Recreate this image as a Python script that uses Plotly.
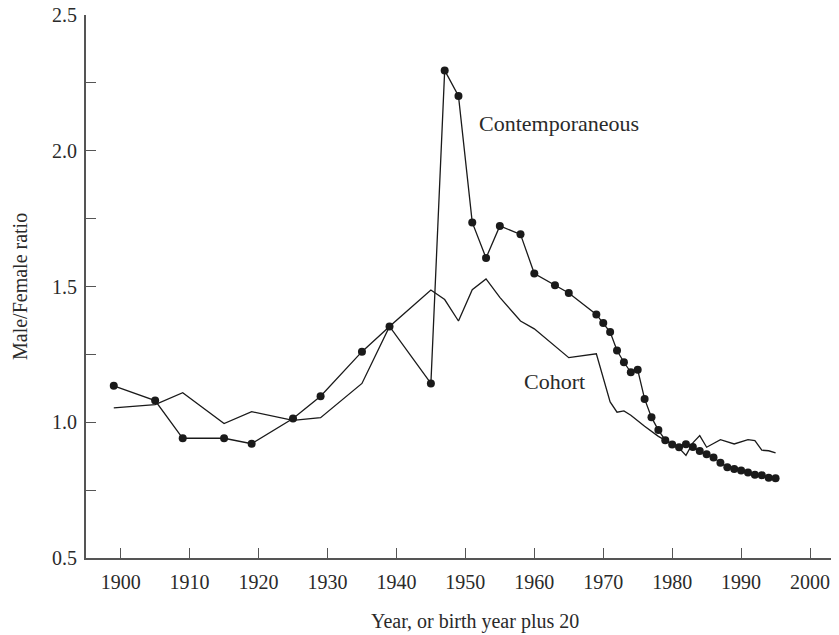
import plotly.graph_objects as go

# Contemporaneous series (dots)
contemp_years = [1899, 1905, 1909, 1915, 1919, 1925, 1929, 1935, 1939, 1945,
                 1947, 1949, 1951, 1953, 1955, 1958, 1960, 1963, 1965, 1969,
                 1970, 1971, 1972, 1973, 1974, 1975, 1976, 1977, 1978, 1979,
                 1980, 1981, 1982, 1983, 1984, 1985, 1986, 1987, 1988, 1989,
                 1990, 1991, 1992, 1993, 1994, 1995]
contemp_ratio = [1.134, 1.080, 0.941, 0.941, 0.921, 1.014, 1.096, 1.260, 1.353, 1.143,
                 2.296, 2.202, 1.736, 1.605, 1.723, 1.692, 1.548, 1.505, 1.476, 1.397,
                 1.366, 1.332, 1.264, 1.221, 1.184, 1.193, 1.086, 1.018, 0.971, 0.934,
                 0.918, 0.908, 0.919, 0.909, 0.894, 0.882, 0.870, 0.851, 0.834, 0.828,
                 0.822, 0.815, 0.807, 0.805, 0.796, 0.794]

# Cohort series (plain line)
cohort_years = [1899, 1905, 1909, 1915, 1919, 1925, 1929, 1935, 1939, 1945,
                1947, 1949, 1951, 1953, 1955, 1958, 1960, 1965, 1969, 1971,
                1972, 1973, 1974, 1975, 1976, 1978, 1980, 1981, 1982, 1983,
                1984, 1985, 1987, 1989, 1991, 1992, 1993, 1994, 1995]
cohort_ratio = [1.053, 1.065, 1.109, 0.995, 1.039, 1.007, 1.017, 1.143, 1.353, 1.487,
                1.452, 1.373, 1.488, 1.528, 1.460, 1.373, 1.344, 1.238, 1.252, 1.075,
                1.037, 1.042, 1.026, 1.005, 0.985, 0.948, 0.918, 0.905, 0.878, 0.924,
                0.951, 0.908, 0.936, 0.920, 0.936, 0.932, 0.897, 0.895, 0.887]

x_ticks = [1900, 1910, 1920, 1930, 1940, 1950, 1960, 1970, 1980, 1990, 2000]
y_ticks = [0.5, 1.0, 1.5, 2.0, 2.5]
y_tick_labels = ["0.5", "1.0", "1.5", "2.0", "2.5"]

FONT = "Liberation Serif"
TXT = "#2a2a2a"
AX = "#555555"

# page has an 8px body margin: compensate so the plot lands where the reference has it
OFF = 8
W, H = 839 - OFF, 635 - OFF
ml, mr, mt, mb = 86 - OFF, 0, 15 - OFF, 635 - 558
pw, ph = W - ml - mr, H - mt - mb

fig = go.Figure()
fig.add_trace(go.Scatter(x=cohort_years, y=cohort_ratio, mode="lines",
                         line=dict(color="#1a1a1a", width=1.3), name="Cohort"))
fig.add_trace(go.Scatter(x=contemp_years, y=contemp_ratio, mode="lines+markers",
                         line=dict(color="#1a1a1a", width=1.3),
                         marker=dict(color="#1a1a1a", size=8),
                         name="Contemporaneous"))

fig.update_layout(
    width=W, height=H,
    margin=dict(l=ml, r=mr, t=mt, b=mb, autoexpand=False),
    paper_bgcolor="white", plot_bgcolor="white",
    showlegend=False,
    font=dict(family=FONT, size=20, color=TXT),
    xaxis=dict(range=[1894.97, 2004.2], tickvals=x_ticks, ticks="inside",
               ticklen=10, tickwidth=1.3, tickcolor=AX,
               showline=True, linecolor=AX, linewidth=2,
               showgrid=False, zeroline=False, ticklabelstandoff=5,
               ticklabeloverflow="allow", automargin=False,
               tickfont=dict(family=FONT, size=20, color=TXT)),
    yaxis=dict(range=[0.5, 2.5], tickvals=y_ticks, ticktext=y_tick_labels,
               ticks="inside", ticklen=10, tickwidth=1.3, tickcolor=AX,
               minor=dict(ticks="inside", ticklen=10, tickwidth=1.3,
                          tickcolor=AX, dtick=0.25, showgrid=False),
               showline=True, linecolor=AX, linewidth=2,
               showgrid=False, zeroline=False, ticklabelstandoff=3,
               ticklabeloverflow="allow", automargin=False,
               tickfont=dict(family=FONT, size=20, color=TXT)),
)

# text placed in page-pixel space (converted to paper coordinates)
specs = [
    ("Contemporaneous", 477, 123, "left", 0, 22),
    ("Cohort", 522, 381, "left", 0, 22),
    ("Year, or birth year plus 20", 475, 621, "center", 0, 20),
    ("Male/Female ratio", 20, 287, "center", -90, 20),
]
ann = []
for text, px, py, anchor, ang, size in specs:
    px, py = px - OFF, py - OFF
    ann.append(dict(text=text, x=(px - ml) / pw, y=(H - mb - py) / ph,
                    xref="paper", yref="paper", xanchor=anchor,
                    yanchor="middle", textangle=ang, showarrow=False,
                    font=dict(family=FONT, size=size, color=TXT)))
fig.update_layout(annotations=ann)

fig.write_html("out.html")
